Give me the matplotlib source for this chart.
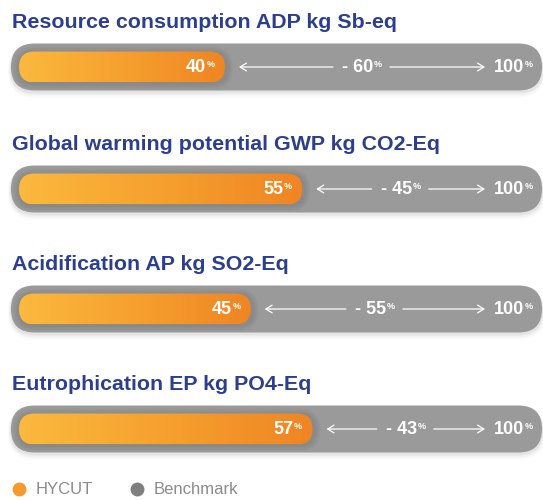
import numpy as np
import matplotlib.pyplot as plt
from matplotlib.patches import FancyBboxPatch
from matplotlib.lines import Line2D
from matplotlib.colors import LinearSegmentedColormap

titles = [
    'Resource consumption ADP kg Sb-eq',
    'Global warming potential GWP kg CO2-Eq',
    'Acidification AP kg SO2-Eq',
    'Eutrophication EP kg PO4-Eq',
]
hycut = [40, 55, 45, 57]
benchmark = [100, 100, 100, 100]
legend_labels = ['HYCUT', 'Benchmark']

# layout (pixels)
W, H = 543, 500
X0 = 19.0      # pixel where 0 % sits
PX = 5.15      # pixels per percent
row_y = [67, 189, 309, 429]
title_gap = 44
bar_h = 31
pad = 8

BLUE = '#2b3f8e'
GREY = '#9a9a9a'
orange_cmap = LinearSegmentedColormap.from_list('o', ['#fbb93e', '#f6a02f', '#ef8523'])
FONT = 'Liberation Sans'


def px(p):
    return p / PX


fig = plt.figure(figsize=(W / 100, H / 100), dpi=100)
ax = fig.add_axes([0, 0, 1, 1])
ax.axis('off')


def pill(x, y, w, h, extra=0.0, **kw):
    r = (h / 2 + extra) / PX
    return FancyBboxPatch((x, y), w, h,
                          boxstyle=f'round,pad={extra / PX},rounding_size={r}',
                          mutation_aspect=PX, **kw)


for i, (t, v, b) in enumerate(zip(titles, hycut, benchmark)):
    yc = row_y[i]
    top = yc - bar_h / 2

    ax.text(px(12 - X0), yc - title_gap, t, ha='left', va='center',
            fontsize=15.4, fontweight='bold', color=BLUE, family=FONT)

    # outer benchmark pill with soft drop shadow
    for k, a in enumerate([0.05, 0.035, 0.02]):
        ax.add_patch(pill(0, top + 2 + k, b, bar_h, extra=pad + 1 + k,
                          facecolor='black', edgecolor='none', alpha=a, zorder=1))
    ax.add_patch(pill(0, top, b, bar_h, extra=pad, facecolor=GREY,
                      edgecolor='none', zorder=2))

    # soft shadow round the HYCUT pill
    for k in range(4):
        ax.add_patch(pill(0, top + 1, v + px(2), bar_h, extra=1.5 + 1.5 * k,
                          facecolor='black', edgecolor='none', alpha=0.025, zorder=3))

    clip = pill(0, top, v, bar_h, facecolor='none', edgecolor='none', zorder=4)
    ax.add_patch(clip)
    im = ax.imshow(np.linspace(0, 1, 256)[None, :], cmap=orange_cmap,
                   extent=(0, v, top + bar_h, top), aspect='auto', zorder=4,
                   interpolation='bilinear')
    im.set_clip_path(clip)

    def pct_label(x, text, dx, ha):
        t_ = ax.annotate(text, xy=(x, yc), xytext=(dx, -1), textcoords='offset pixels',
                         ha=ha, va='center', fontsize=13, fontweight='bold',
                         color='white', family=FONT, zorder=6)
        ax.annotate('%', xy=(1, 0.5), xycoords=t_, xytext=(0.5, 3.5),
                    textcoords='offset pixels', ha='left', va='center', fontsize=6.5,
                    fontweight='bold', color='white', family=FONT, zorder=6)
        return t_

    pct_label(v, f'{v}', -19, 'right')
    pct_label(b, f'{b}', -10, 'right')

    left_tip = v + px(14)
    right_tip = b - px(49)
    mid = (left_tip + right_tip) / 2
    pct_label(mid, f'- {b - v}', -4, 'center')

    arrow = dict(arrowstyle='->,head_length=0.45,head_width=0.28', color='white',
                 lw=0.9, shrinkA=0, shrinkB=0)
    ax.annotate('', xy=(left_tip, yc), xytext=(mid - px(29), yc), arrowprops=arrow, zorder=6)
    ax.annotate('', xy=(right_tip, yc), xytext=(mid + px(28), yc), arrowprops=arrow, zorder=6)

handles = [
    Line2D([], [], marker='o', ls='', markersize=10, markerfacecolor='#f69a2c',
           markeredgecolor='none'),
    Line2D([], [], marker='o', ls='', markersize=10, markerfacecolor='#7f7f7f',
           markeredgecolor='none'),
]
leg = ax.legend(handles, legend_labels, loc='center left', bbox_to_anchor=(-4 / W, 1 - 490 / H),
                ncol=2, frameon=False, handlelength=1.0, handletextpad=0.45,
                columnspacing=2.2, prop={'family': FONT, 'size': 12})
for txt in leg.get_texts():
    txt.set_color('#8a8a8a')

ax.set_xlim(px(-X0), px(W - X0))
ax.set_ylim(H, 0)

fig.savefig('out.png', dpi=100)
